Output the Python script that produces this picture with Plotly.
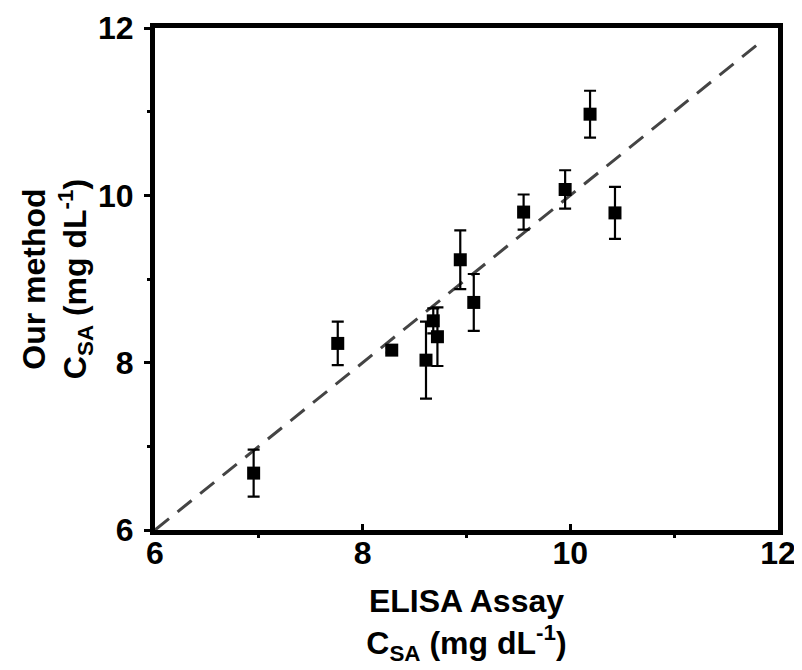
import plotly.graph_objects as go

elisa = [6.95, 7.76, 8.28, 8.61, 8.68, 8.72, 8.94, 9.07, 9.55, 9.95, 10.19, 10.43]
ours = [6.68, 8.23, 8.15, 8.03, 8.50, 8.31, 9.23, 8.72, 9.80, 10.07, 10.97, 9.79]
err = [0.28, 0.26, 0.03, 0.46, 0.15, 0.35, 0.35, 0.34, 0.21, 0.23, 0.28, 0.31]
ref_line = [6, 11.83]
tick_vals = [6, 8, 10, 12]

FONT = "Liberation Sans, Arial, sans-serif"
FS = 32

fig = go.Figure()
fig.add_trace(go.Scatter(
    x=ref_line, y=ref_line, mode="lines",
    line=dict(color="#444444", width=3, dash="18px,11px"),
    showlegend=False, hoverinfo="skip"))
fig.add_trace(go.Scatter(
    x=elisa, y=ours, mode="markers",
    marker=dict(symbol="square", size=13, color="black"),
    error_y=dict(type="data", array=err, visible=True, color="black", thickness=2.2, width=6),
    showlegend=False))

axis_common = dict(
    range=[6, 12], tickvals=tick_vals, showline=True, linecolor="black", linewidth=5,
    mirror=True, showgrid=False, zeroline=False, ticklen=6, tickwidth=3, tickcolor="black",
    tickfont=dict(family=FONT, size=FS, color="black", weight="bold"),
    minor=dict(tickvals=[7, 9, 11], ticklen=3, tickwidth=3, tickcolor="black"),
    automargin=False,
)

fig.update_xaxes(**axis_common, ticks="inside", ticklabelstandoff=-9,
                 title=dict(text="ELISA Assay<br>C<sub>SA</sub> (mg dL<sup>-1</sup>)",
                            font=dict(family=FONT, size=FS, color="black", weight="bold"),
                            standoff=21))
fig.update_yaxes(**axis_common, ticks="outside", ticklabelstandoff=4,
                 title=dict(text="Our method<br>C<sub>SA</sub> (mg dL<sup>-1</sup>)",
                            font=dict(family=FONT, size=FS, color="black", weight="bold"),
                            standoff=2))

# the page body has an 8px margin, so the figure is sized to end at the window edge
fig.update_layout(
    width=794, height=662,
    margin=dict(l=147, r=24, t=20, b=140, pad=0),
    plot_bgcolor="white", paper_bgcolor="white",
)

fig.write_html("out.html")
